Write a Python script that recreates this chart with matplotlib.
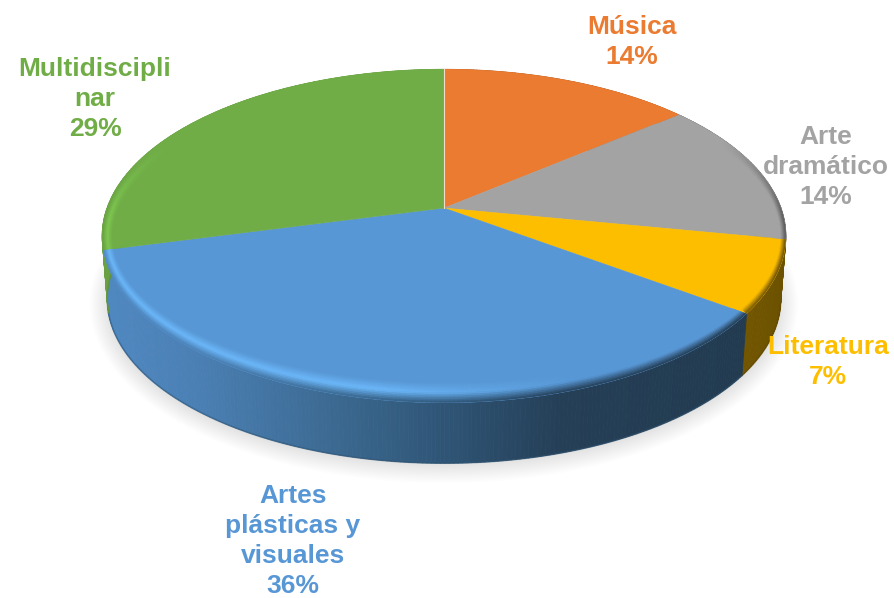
import matplotlib
matplotlib.use("Agg")
import matplotlib.pyplot as plt
import numpy as np
from matplotlib.collections import PolyCollection
from matplotlib.colors import to_rgb
from matplotlib.patches import Polygon

# slices clockwise from 12 o'clock
categories = ["Música", "Arte\ndramático", "Literatura", "Artes\nplásticas y\nvisuales", "Multidiscipli\nnar"]
values = [14, 14, 7, 36, 29]
colors = ["#EA7B30", "#A3A3A3", "#FDBE00", "#5897D5", "#70AD47"]

label_pos = [(632, 42), (826, 167), (828, 362), (293, 541), (95, 99)]
highlights = ["#EA7B30", "#A3A3A3", "#FDBE00", "#6CB8FA", "#7EC850"]
side_x = [105, 200, 340, 444, 560, 740, 790]
side_cols = [
    ["#B05A20"] * 7,
    ["#5A5A5A"] * 7,
    ["#7A5C00", "#7A5C00", "#7A5C00", "#7A5C00", "#7A5C00", "#735600", "#6B5100"],
    ["#4F88C0", "#4A7FB3", "#3B688F", "#2F5576", "#253F57", "#223B50", "#223B50"],
    ["#6AA044"] * 7,
]

# projection of the pie disc, in image pixels
CX, CY = 444, 208
A, B, K = 337, 162, 0.168
ELL_CY = 236
DEPTH_CY = 299
DEPTH_SCALE = 0.985
BEVEL_X, BEVEL_Y = 10, 20


def rim(theta):
    w = 1 + K * np.cos(theta)
    return CX + A * np.sin(theta) / w, CY - B * np.cos(theta) / w


def lower(x, y):
    return CX + DEPTH_SCALE * (x - CX), DEPTH_CY + DEPTH_SCALE * (y - ELL_CY)


def inner(x, y, t):
    # t = 1 on the rim, 0 on the inner edge of the bevel
    fx = 1 - (1 - t) * BEVEL_X / 342
    fy = 1 - (1 - t) * BEVEL_Y / 167
    return CX + fx * (x - CX), ELL_CY + fy * (y - ELL_CY)


def side_color(stops, x):
    rgb = np.array([to_rgb(c) for c in stops])
    return np.array([np.interp(x, side_x, rgb[:, i]) for i in range(3)]).T


fig = plt.figure(figsize=(8.94, 5.98), dpi=100)
ax = fig.add_axes([0, 0, 1, 1])
ax.set_xlim(0, 894)
ax.set_ylim(598, 0)
ax.axis("off")

# soft shadow under the pie
t = np.linspace(0, 2 * np.pi, 240)
for grow in np.linspace(18, 0, 14):
    ax.fill(CX + (336 + grow) * np.cos(t), 304 + (161 + grow) * np.sin(t),
            color="black", alpha=0.0075, lw=0)

edges = np.cumsum([0] + values) / sum(values) * 2 * np.pi
slices = []
for i in range(len(values)):
    n = max(int((edges[i + 1] - edges[i]) * 90), 10)
    slices.append(np.linspace(edges[i], edges[i + 1], n))

# side wall
for i, theta in enumerate(slices):
    x, y = rim(theta)
    xb, yb = lower(x, y)
    quads = [[(x[j], y[j]), (x[j + 1], y[j + 1]), (xb[j + 1], yb[j + 1]), (xb[j], yb[j])]
             for j in range(len(x) - 1)]
    cols = side_color(side_cols[i], (x[:-1] + x[1:]) / 2)
    ax.add_collection(PolyCollection(quads, facecolors=cols, edgecolors=cols, linewidths=0.6))
    ax.plot(xb, yb, color=side_color(side_cols[i], xb.mean()) * 0.85, lw=1.2, alpha=0.5, zorder=1)

# flat top
tops = []
for i, theta in enumerate(slices):
    x, y = rim(theta)
    pts = np.column_stack([np.r_[CX, x], np.r_[CY, y]])
    tops.append(ax.add_patch(Polygon(pts, closed=True, facecolor=colors[i], edgecolor=colors[i], lw=0.3)))

# bevel along the front of the rim, kept inside its own slice
steps = np.linspace(0, 1, 13)
for i, theta in enumerate(slices):
    face = np.array(to_rgb(colors[i]))
    high = np.array(to_rgb(highlights[i]))
    x, y = rim(theta)
    mid_th = (theta[:-1] + theta[1:]) / 2
    mx, _ = rim(mid_th)
    edge = side_color(side_cols[i], mx)
    strength = np.clip((0.45 - np.cos(mid_th)) / 0.5, 0, 1)[:, None]
    glow = np.interp(mx, [100, 380, 580], [1, 1, 0])[:, None]
    for a, b in zip(steps[:-1], steps[1:]):
        xa, ya = inner(x, y, a)
        xc, yc = inner(x, y, b)
        quads = [[(xa[j], ya[j]), (xa[j + 1], ya[j + 1]), (xc[j + 1], yc[j + 1]), (xc[j], yc[j])]
                 for j in range(len(x) - 1)]
        s = (a + b) / 2
        mid = face + (high - face) * glow
        if s < 0.5:
            col = face + (mid - face) * s / 0.5
        else:
            col = mid + (edge - mid) * (s - 0.5) / 0.5
        col = face + (col - face) * strength
        band = PolyCollection(quads, facecolors=col, edgecolors=col, linewidths=0.4)
        ax.add_collection(band)
        band.set_clip_path(tops[i])

# thin light seam at 12 o'clock
xt, yt = rim(np.array([0.0]))
ax.plot([CX, xt[0]], [CY, yt[0]], color="#F2DCC8", lw=0.8)

for i, name in enumerate(categories):
    lx, ly = label_pos[i]
    ax.text(lx, ly, f"{name}\n{values[i]}%", color=colors[i], ha="center", va="center",
            family="Liberation Sans", fontweight="bold", fontsize=19, linespacing=1.31)

fig.savefig("out.png", dpi=100)
